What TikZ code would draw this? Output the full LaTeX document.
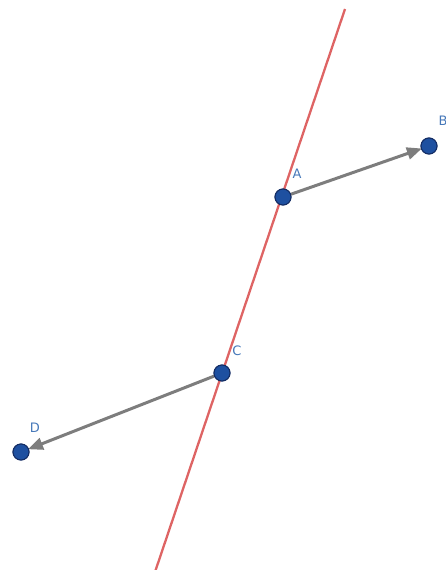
\documentclass[tikz,border=0pt]{standalone}
\usepackage{fontspec}
\setmainfont{DejaVu Sans}
\usetikzlibrary{arrows.meta}
\definecolor{ptblue}{RGB}{30,80,160}
\definecolor{ptedge}{RGB}{20,45,100}
\definecolor{lblblue}{RGB}{70,120,185}
\definecolor{linered}{RGB}{222,100,100}
\definecolor{vecgray}{RGB}{125,125,125}
\tikzset{
  pt/.style={circle,fill=ptblue,draw=ptedge,line width=1pt,minimum size=16pt,inner sep=0pt},
  lbl/.style={text=lblblue,font=\fontsize{13}{15}\selectfont,inner sep=0pt},
  vec/.style={draw=vecgray,line width=3pt,-{Triangle[length=15pt,width=12pt]},shorten >=-1pt},
  redline/.style={draw=linered,line width=2.3pt}
}
\begin{document}
\begin{tikzpicture}[x=1pt,y=-1pt]
\useasboundingbox (0,0) rectangle (446,570);
\coordinate (top) at (345,9);
\coordinate (bot) at (155,572);
\draw[redline] (top) -- (bot);
\node[pt] (A) at (283,197) {};
\node[pt] (B) at (429,146) {};
\node[pt] (C) at (222,373) {};
\node[pt] (D) at (21,452) {};
\draw[vec] (A) -- (B);
\draw[vec] (C) -- (D);
\node[pt] at (A) {};
\node[pt] at (B) {};
\node[pt] at (C) {};
\node[pt] at (D) {};
\node[lbl] (lA) at (297,174) {A};
\node[lbl] (lB) at (443,121) {B};
\node[lbl] (lC) at (237,351) {C};
\node[lbl] (lD) at (35,428) {D};
\end{tikzpicture}
\end{document}
